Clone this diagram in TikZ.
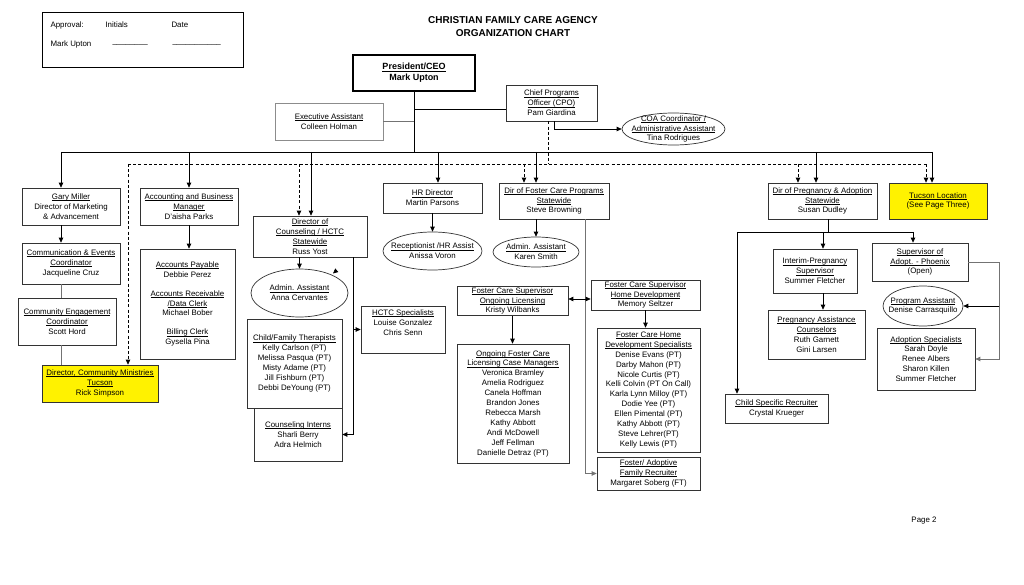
\documentclass[tikz,border=0pt]{standalone}
\usepackage{fontspec}
\setmainfont{Liberation Sans}
\usetikzlibrary{arrows.meta, shapes.geometric}

% underline close to the baseline
\newcommand{\ttl}[1]{\setbox0\hbox{#1}\rlap{\rule[-1.3pt]{\wd0}{0.45pt}}\box0}

\begin{document}
\begin{tikzpicture}[
    x=1pt, y=-1pt,
    every node/.style={font=\fontsize{7.9}{9.9}\selectfont},
    >={Triangle[length=5pt,width=4.5pt]},
    box/.style={draw=black!80, fill=white, align=center, inner sep=1pt, line width=0.7pt},
    ybox/.style={box, fill=yellow},
    oval/.style={ellipse, draw=black!80, fill=white, inner sep=0pt, line width=0.7pt},
    lbl/.style={align=center, inner sep=0pt},
    link/.style={line width=0.75pt},
    slink/.style={line width=0.75pt, black!55},
    dlink/.style={line width=0.75pt, dash pattern=on 3pt off 2.2pt}
]
\useasboundingbox (0,0) rectangle (1024,585);

% --- Approval block ---
\draw[line width=0.8pt] (42,12) rectangle (243,67);
\node[anchor=west] (appr) at (47,25) {Approval:};
\node[anchor=west] (init) at (102,25) {Initials};
\node[anchor=west] (date) at (168,25) {Date};
\node[anchor=west] (signer) at (47,44) {Mark Upton};
\node[anchor=west] (initline) at (109,44) {\_\_\_\_\_\_\_\_};
\node[anchor=west] (dateline) at (169,44) {\_\_\_\_\_\_\_\_\_\_\_};

% --- Title ---
\node[font=\fontsize{10}{12.5}\selectfont\bfseries, align=center] (title) at (513,26.5)
    {CHRISTIAN FAMILY CARE AGENCY\\ORGANIZATION CHART};

% --- Top level ---
\node[box, draw=black, line width=1.2pt, minimum width=122pt, minimum height=36pt,
      font=\fontsize{9}{11}\selectfont\bfseries] (ceo) at (414,73) {\ttl{President/CEO}\\Mark Upton};
\node[box, draw=black!45, minimum width=108pt, minimum height=37pt] (exec) at (329,121.5)
    {\ttl{Executive Assistant}\\Colleen Holman};
\node[box, minimum width=91pt, minimum height=36pt] (cpo) at (551.5,103)
    {\ttl{Chief Programs}\\\ttl{Officer (CPO)}\\Pam Giardina};
\node[oval, minimum width=103pt, minimum height=32pt,
      label={[lbl]center:{\ttl{COA Coordinator /}\\\ttl{Administrative Assistant}\\Tina Rodrigues}}] (coa) at (673.5,129) {};

% --- Marketing / ministries column ---
\node[box, minimum width=98pt, minimum height=37pt] (gary) at (71,206.5)
    {\ttl{Gary Miller}\\Director of Marketing\\\& Advancement};
\node[box, minimum width=98pt, minimum height=41pt] (comm) at (71,263.5)
    {\ttl{Communication \& Events}\\\ttl{Coordinator}\\Jacqueline Cruz};
\node[box, minimum width=98pt, minimum height=47pt] (engage) at (67,321.5)
    {\ttl{Community Engagement}\\\ttl{Coordinator}\\Scott Hord};
\node[ybox, minimum width=116pt, minimum height=37pt] (ministries) at (100,383.5)
    {\ttl{Director, Community Ministries}\\\ttl{Tucson}\\Rick Simpson};

% --- Accounting column ---
\node[box, minimum width=98pt, minimum height=37pt] (accounting) at (189,206.5)
    {\ttl{Accounting and Business}\\\ttl{Manager}\\D'aisha Parks};
\node[box, minimum width=95pt, minimum height=110pt] (accounts) at (187.5,304)
    {\ttl{Accounts Payable}\\Debbie Perez\\[9pt]\ttl{Accounts Receivable}\\\ttl{/Data Clerk}\\Michael Bober\\[9pt]\ttl{Billing Clerk}\\Gysella Pina};

% --- Counseling column ---
\node[box, minimum width=114pt, minimum height=41pt] (counsel) at (310,236.5)
    {\ttl{Director of}\\\ttl{Counseling / HCTC}\\\ttl{Statewide}\\Russ Yost};
\node[oval, minimum width=97pt, minimum height=48pt,
      label={[lbl]center:{\ttl{Admin. Assistant}\\Anna Cervantes}}] (anna) at (299.5,293) {};
\node[box, minimum width=84pt, minimum height=47pt] (hctc) at (403,329.5)
    {\ttl{HCTC Specialists}\\Louise Gonzalez\\Chris Senn\\[4pt]};
\node[box, minimum width=88pt, minimum height=53pt] (interns) at (298,434.5)
    {\ttl{Counseling Interns}\\Sharli Berry\\Adra Helmich};
\node[box, minimum width=95pt, minimum height=89pt] (therapists) at (294.5,363.5)
    {\ttl{Child/Family Therapists}\\Kelly Carlson (PT)\\Melissa Pasqua (PT)\\Misty Adame (PT)\\Jill Fishburn (PT)\\Debbi DeYoung (PT)};

% --- HR ---
\node[box, minimum width=99pt, minimum height=30pt] (hr) at (432.5,198)
    {\ttl{HR Director}\\Martin Parsons};
\node[oval, minimum width=99pt, minimum height=38pt,
      label={[lbl]center:{\ttl{Receptionist /HR Assist}\\Anissa Voron}}] (recep) at (432.5,251) {};

% --- Foster care ---
\node[box, minimum width=110pt, minimum height=36pt] (fosterdir) at (554,201)
    {\ttl{Dir of Foster Care Programs}\\\ttl{Statewide}\\Steve Browning};
\node[oval, minimum width=86pt, minimum height=30pt,
      label={[lbl]center:{\ttl{Admin. Assistant}\\Karen Smith}}] (karen) at (536,252) {};
\node[box, minimum width=111pt, minimum height=29pt] (licensing) at (512.5,301)
    {\ttl{Foster Care Supervisor}\\\ttl{Ongoing Licensing}\\Kristy Wilbanks};
\node[box, minimum width=109pt, minimum height=30pt] (homedev) at (645.5,295)
    {\ttl{Foster Care Supervisor}\\\ttl{Home Development}\\Memory Seltzer};
\node[box, minimum width=112pt, minimum height=119pt] (casemgr) at (513,403.5)
    {\ttl{Ongoing Foster Care}\\\ttl{Licensing Case Managers}\\Veronica Bramley\\Amelia Rodriguez\\Canela Hoffman\\Brandon Jones\\Rebecca Marsh\\Kathy Abbott\\Andi McDowell\\Jeff Fellman\\Danielle Detraz (PT)};
\node[box, minimum width=103pt, minimum height=124pt] (specialists) at (648.5,390)
    {\ttl{Foster Care Home}\\\ttl{Development Specialists}\\Denise Evans (PT)\\Darby Mahon (PT)\\Nicole Curtis (PT)\\Kelli Colvin (PT On Call)\\Karla Lynn Milloy (PT)\\Dodie Yee (PT)\\Ellen Pimental (PT)\\Kathy Abbott (PT)\\Steve Lehrer(PT)\\Kelly Lewis (PT)};
\node[box, minimum width=103pt, minimum height=33pt] (recruiter) at (648.5,473.5)
    {\ttl{Foster/ Adoptive}\\\ttl{Family Recruiter}\\Margaret Soberg (FT)};

% --- Pregnancy & adoption ---
\node[box, minimum width=109pt, minimum height=36pt] (pregdir) at (822.5,201)
    {\ttl{Dir of Pregnancy \& Adoption}\\\ttl{Statewide}\\Susan Dudley};
\node[ybox, minimum width=98pt, minimum height=36pt] (tucson) at (938,201)
    {\ttl{Tucson Location}\\(See Page Three)};
\node[box, minimum width=84pt, minimum height=44pt] (interim) at (815,271)
    {\ttl{Interim-Pregnancy}\\\ttl{Supervisor}\\Summer Fletcher};
\node[box, minimum width=97pt, minimum height=49pt] (pregcoun) at (816.5,334.5)
    {\ttl{Pregnancy Assistance}\\\ttl{Counselors}\\Ruth Garnett\\Gini Larsen};
\node[box, minimum width=96pt, minimum height=38pt] (supadopt) at (920,262)
    {\ttl{Supervisor of}\\\ttl{Adopt. - Phoenix}\\(Open)};
\node[oval, minimum width=80pt, minimum height=40pt,
      label={[lbl]center:{\ttl{Program Assistant}\\Denise Carrasquillo}}] (progasst) at (923,306) {};
\node[box, minimum width=98pt, minimum height=62pt] (adoptspec) at (926,359)
    {\ttl{Adoption Specialists}\\Sarah Doyle\\Renee Albers\\Sharon Killen\\Summer Fletcher};
\node[box, minimum width=103pt, minimum height=29pt] (childrec) at (776.5,408.5)
    {\ttl{Child Specific Recruiter}\\Crystal Krueger};

\node (page) at (924,521) {Page 2};

% --- Buses under the CEO ---
\coordinate (busW) at (61,152);
\coordinate (busE) at (932,152);
\coordinate (dbusW) at (128,164);
\coordinate (dbusE) at (926,164);
\coordinate (cpoIn) at ([yshift=-6pt]cpo.west);
\draw[link] (busW) -- (busE);
\draw[dlink] (dbusW) -- (dbusE);
\draw[link] (ceo.south) -- (ceo.south |- busW);
\draw[slink] (exec.east) -- (exec.east -| ceo.south);
\draw[link] (ceo.south |- cpoIn) -- (cpoIn);
\draw[dlink] ([xshift=-3.5pt]cpo.south) -- ([xshift=-3.5pt]cpo.south |- dbusW);
\draw[link, ->] ([xshift=2.5pt]cpo.south) |- (coa.west);

\foreach \x/\n in {61/gary, 189/accounting, 311/counsel, 438/hr, 536/fosterdir, 816/pregdir, 932/tucson}{
    \coordinate (drop) at (\x,152);
    \draw[link, ->] (drop) -- (drop |- \n.north);
}
\foreach \x/\n in {128/ministries, 299/counsel, 524/fosterdir, 798/pregdir, 926/tucson}{
    \coordinate (ddrop) at (\x,164);
    \draw[dlink, ->] (ddrop) -- (ddrop |- \n.north);
}

% --- Column links ---
\draw[link, ->] (busW |- gary.south) -- (busW |- comm.north);
\draw[slink] (busW |- comm.south) -- (busW |- engage.north);
\draw[slink] (busW |- engage.south) -- (busW |- ministries.north);
\draw[link, ->] (accounting.south) -- (accounting.south |- accounts.north);

\coordinate (cv) at ([xshift=43pt]counsel.south);
\coordinate (annaTip) at (336.5,270.5);
\draw[link, ->] (counsel.south -| anna.north) -- (anna.north);
\draw[link, ->] (annaTip) -- ++(-3.5,3);
\draw[link, ->] (cv) |- (interns.east);
\draw[link, ->] (cv |- hctc.west) -- (hctc.west);

\draw[link, ->] (hr.south) -- (recep.north);

\coordinate (fv) at ([xshift=31pt]fosterdir.south);
\draw[link, ->] (fosterdir.south -| karen.north) -- (karen.north);
\draw[slink, ->] (fv) |- (recruiter.west);
\draw[link, <->] ([yshift=2pt]licensing.east) -- ([yshift=2pt]licensing.east -| homedev.west);
\draw[link, ->] (licensing.south) -- (licensing.south |- casemgr.north);
\draw[link, ->] (homedev.south) -- (homedev.south |- specialists.north);

\coordinate (pv) at ([xshift=5.5pt]pregdir.south);
\coordinate (pbus) at ([yshift=-13pt]pv);
\coordinate (pl) at (737,232);
\coordinate (pr) at (913,232);
\draw[link] (pv) -- (pbus);
\draw[link] (pl) -- (pr);
\draw[link, ->] (pl) -- (pl |- childrec.north);
\draw[link, ->] ([xshift=8pt]interim.north |- pbus) -- ([xshift=8pt]interim.north);
\draw[link, ->] (pr) -- (pr |- supadopt.north);
\draw[link, ->] ([xshift=8pt]interim.south) -- ([xshift=8pt]interim.south |- pregcoun.north);

\coordinate (av) at ([xshift=31pt]supadopt.east);
\draw[slink, ->] (supadopt.east) -- (av) |- (adoptspec.east);
\draw[link, ->] (av |- progasst.east) -- (progasst.east);

\end{tikzpicture}
\end{document}
